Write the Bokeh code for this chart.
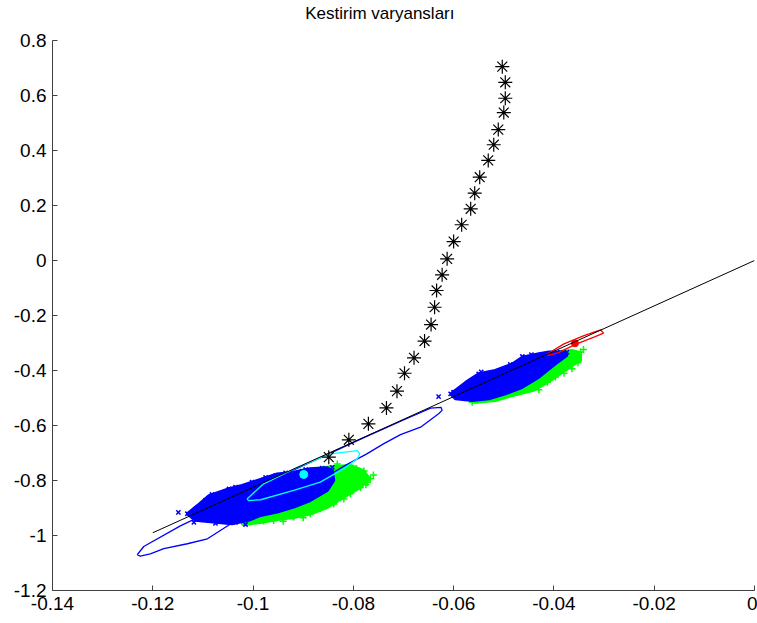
from bokeh.plotting import figure
from bokeh.models import Range1d, FixedTicker, Label
from bokeh.embed import file_html
from bokeh.resources import INLINE

# ---------------- data ----------------
title_text = "Kestirim varyansları"

x_tick_labels = ["-0.14", "-0.12", "-0.1", "-0.08", "-0.06", "-0.04", "-0.02", "0"]
y_tick_labels = ["0.8", "0.6", "0.4", "0.2", "0", "-0.2", "-0.4", "-0.6", "-0.8", "-1", "-1.2"]

# black asterisk path
star_x = [-0.0503, -0.0497, -0.0497, -0.0500, -0.0511, -0.0520, -0.0531, -0.0548, -0.0558,
          -0.0566, -0.0584, -0.0600, -0.0613, -0.0623, -0.0634, -0.0638, -0.0645, -0.0658,
          -0.0679, -0.0698, -0.0713, -0.0734, -0.0770, -0.0809, -0.0849]
star_y = [0.705, 0.648, 0.590, 0.538, 0.476, 0.421, 0.364, 0.303, 0.245, 0.188, 0.130,
          0.069, 0.006, -0.052, -0.109, -0.170, -0.233, -0.293, -0.354, -0.410, -0.475,
          -0.536, -0.594, -0.652, -0.715]

# black straight line
line_x = [-0.12, 0.0]
line_y = [-0.99, 0.0]

# large blue contour
blue_ct_x = [-0.1231, -0.1218, -0.1145, -0.1045, -0.0945, -0.0860, -0.0780, -0.0700, -0.0646,
             -0.0625, -0.0623, -0.0630, -0.0666, -0.0706, -0.0740, -0.0774, -0.0816, -0.0866,
             -0.0925, -0.0985, -0.1045, -0.1091, -0.1131, -0.1178, -0.1205, -0.1225, -0.1231]
blue_ct_y = [-1.070, -1.040, -0.965, -0.878, -0.783, -0.712, -0.645, -0.580, -0.537,
             -0.534, -0.545, -0.557, -0.606, -0.633, -0.667, -0.704, -0.745, -0.800,
             -0.855, -0.909, -0.958, -1.012, -1.030, -1.048, -1.067, -1.075, -1.070]

# cyan contour and centre
cyan_ct_x = [-0.1012, -0.0979, -0.0912, -0.0846, -0.0792, -0.0787, -0.0792, -0.0819, -0.0866,
             -0.0919, -0.0985, -0.1009, -0.1012]
cyan_ct_y = [-0.867, -0.812, -0.752, -0.703, -0.691, -0.703, -0.721, -0.757, -0.806,
             -0.836, -0.870, -0.873, -0.867]
cyan_pt_x = [-0.0899]
cyan_pt_y = [-0.778]

# red contour and centre
red_ct_x = [-0.0415, -0.0380, -0.0340, -0.0307, -0.0301, -0.0319, -0.0357, -0.0391, -0.0411, -0.0415]
red_ct_y = [-0.342, -0.303, -0.273, -0.252, -0.264, -0.278, -0.305, -0.335, -0.345, -0.342]
red_pt_x = [-0.0358]
red_pt_y = [-0.301]

# dense cores of the sample clouds
blue_core1_x = [-0.1131, -0.1111, -0.1088, -0.1048, -0.1022, -0.0982, -0.0952, -0.0919, -0.0886,
                -0.0852, -0.0842, -0.0839, -0.0852, -0.0886, -0.0919, -0.0952, -0.0985, -0.1009,
                -0.1042, -0.1075, -0.1115]
blue_core1_y = [-0.921, -0.891, -0.855, -0.830, -0.818, -0.794, -0.776, -0.770, -0.757,
                -0.754, -0.764, -0.800, -0.836, -0.873, -0.897, -0.915, -0.927, -0.945,
                -0.957, -0.952, -0.945]
green_core1_x = [-0.0905, -0.0840, -0.0806, -0.0780, -0.0768, -0.0786, -0.0820, -0.0852, -0.0886,
                 -0.0919, -0.0951, -0.0985, -0.1021, -0.1025, -0.0965]
green_core1_y = [-0.764, -0.749, -0.745, -0.764, -0.793, -0.825, -0.862, -0.898, -0.922,
                 -0.935, -0.942, -0.953, -0.960, -0.909, -0.855]
blue_core2_x = [-0.0606, -0.0576, -0.0550, -0.0517, -0.0483, -0.0463, -0.0430, -0.0410, -0.0377,
                -0.0374, -0.0397, -0.0430, -0.0463, -0.0497, -0.0530, -0.0563, -0.0596]
blue_core2_y = [-0.485, -0.443, -0.412, -0.400, -0.376, -0.352, -0.339, -0.333, -0.333,
                -0.345, -0.376, -0.424, -0.461, -0.485, -0.503, -0.509, -0.503]
green_core2_x = [-0.0423, -0.0390, -0.0364, -0.0347, -0.0347, -0.0364, -0.0397, -0.0417, -0.0443,
                 -0.0483, -0.0517, -0.0550, -0.0563, -0.0507, -0.0447]
green_core2_y = [-0.339, -0.333, -0.327, -0.335, -0.364, -0.382, -0.424, -0.448, -0.473,
                 -0.491, -0.509, -0.515, -0.515, -0.455, -0.400]

# individual samples at the edges of the clouds
blue_pts_x = [-0.1149, -0.1131, -0.1118, -0.1098, -0.1108, -0.1088, -0.1082, -0.1065, -0.1048,
              -0.1035, -0.1002, -0.0979, -0.0975, -0.0902, -0.0882, -0.0862, -0.0842, -0.1035,
              -0.1075, -0.1015, -0.1055, -0.0935, -0.0955, -0.0895, -0.1095,
              -0.0630, -0.0606, -0.0600, -0.0586, -0.0560, -0.0550, -0.0533, -0.0513, -0.0463,
              -0.0387, -0.0374, -0.0487, -0.0576, -0.0445, -0.0545, -0.0495]
blue_pts_y = [-0.916, -0.921, -0.952, -0.943, -0.898, -0.869, -0.851, -0.851, -0.831,
              -0.824, -0.806, -0.798, -0.789, -0.766, -0.762, -0.755, -0.752, -0.952,
              -0.956, -0.960, -0.942, -0.772, -0.782, -0.760, -0.872,
              -0.495, -0.485, -0.479, -0.473, -0.443, -0.412, -0.412, -0.407, -0.349,
              -0.333, -0.333, -0.378, -0.502, -0.342, -0.405, -0.395]
green_pts_x = [-0.0779, -0.0766, -0.0772, -0.0786, -0.0806, -0.0819, -0.0839, -0.0866, -0.0886,
               -0.0919, -0.0959, -0.0979, -0.0992, -0.1019, -0.0806, -0.0786, -0.0832, -0.0794,
               -0.0760, -0.0775, -0.0900, -0.0940,
               -0.0347, -0.0357, -0.0364, -0.0397, -0.0413, -0.0447, -0.0473, -0.0507, -0.0540,
               -0.0563, -0.0341, -0.0371, -0.0352, -0.0380, -0.0430]
green_pts_y = [-0.765, -0.794, -0.807, -0.825, -0.848, -0.867, -0.885, -0.903, -0.921,
               -0.933, -0.945, -0.947, -0.943, -0.952, -0.745, -0.773, -0.740, -0.756,
               -0.780, -0.815, -0.935, -0.948,
               -0.333, -0.345, -0.394, -0.424, -0.443, -0.461, -0.479, -0.491, -0.503,
               -0.515, -0.324, -0.356, -0.372, -0.410, -0.470]

# ---------------- figure ----------------
FONT = "Liberation Sans"
Y_MIN, Y_MAX = -1.2, 0.8
# the plotting area reaches the top of the canvas so that the title sits inside it;
# the axis itself is bounded to the data limits
Y_TOP = Y_MAX + 40 / 275.0

p = figure(width=757, height=623,
           x_range=Range1d(-0.14, 0.0), y_range=Range1d(Y_MIN, Y_TOP),
           output_backend="svg", toolbar_location=None,
           min_border_left=52, min_border_right=3, min_border_top=0, min_border_bottom=33)

p.add_layout(Label(x=-0.0896, y=Y_MAX + 27.5 / 275.0, x_units="data", y_units="data",
                   text=title_text, text_font=FONT, text_font_size="17px",
                   text_color="black", text_align="left", text_baseline="alphabetic"))

p.xgrid.visible = False
p.ygrid.visible = False
p.outline_line_color = None
p.background_fill_color = "white"
p.border_fill_color = "white"

x_ticks = [float(s) for s in x_tick_labels]
y_ticks = [float(s) for s in y_tick_labels]
p.xaxis.ticker = FixedTicker(ticks=x_ticks)
p.yaxis.ticker = FixedTicker(ticks=y_ticks)
p.xaxis.major_label_overrides = {v: s for v, s in zip(x_ticks, x_tick_labels)}
p.yaxis.major_label_overrides = {v: s for v, s in zip(y_ticks, y_tick_labels)}
p.yaxis.bounds = (Y_MIN, Y_MAX)

for ax in (p.xaxis, p.yaxis):
    ax.major_tick_in = 5
    ax.major_tick_out = 0
    ax.minor_tick_line_color = None
    ax.axis_line_color = "#404040"
    ax.major_tick_line_color = "#404040"
    ax.major_label_text_font = FONT
    ax.major_label_text_font_size = "19px"
    ax.major_label_text_color = "black"
    ax.major_label_standoff = 6

BLUE = "#0000FF"
GREEN = "#00FF00"

# green samples (below) then blue samples
p.patch(green_core1_x, green_core1_y, fill_color=GREEN, line_color=GREEN, line_width=3)
p.patch(green_core2_x, green_core2_y, fill_color=GREEN, line_color=GREEN, line_width=3)
p.scatter(green_pts_x, green_pts_y, marker="cross", size=7, line_color=GREEN, line_width=1.5)
p.patch(blue_core1_x, blue_core1_y, fill_color=BLUE, line_color=BLUE, line_width=3)
p.patch(blue_core2_x, blue_core2_y, fill_color=BLUE, line_color=BLUE, line_width=3)
p.scatter(blue_pts_x, blue_pts_y, marker="x", size=6, line_color=BLUE, line_width=1.5)

# contours
p.line(blue_ct_x, blue_ct_y, line_color=BLUE, line_width=1.3)
p.line(cyan_ct_x, cyan_ct_y, line_color="#00FFFF", line_width=1.3)
p.line(red_ct_x, red_ct_y, line_color="#FF0000", line_width=1.3)
p.scatter(cyan_pt_x, cyan_pt_y, marker="circle", size=8, fill_color="#00FFFF", line_color="#00FFFF")
p.scatter(red_pt_x, red_pt_y, marker="circle", size=7, fill_color="#FF0000", line_color="#FF0000")

# black line and asterisks
p.line(line_x, line_y, line_color="black", line_width=1)
p.scatter(star_x, star_y, marker="asterisk", size=14, line_color="black", line_width=1.2)

open("out.html", "w").write(file_html(p, INLINE))
